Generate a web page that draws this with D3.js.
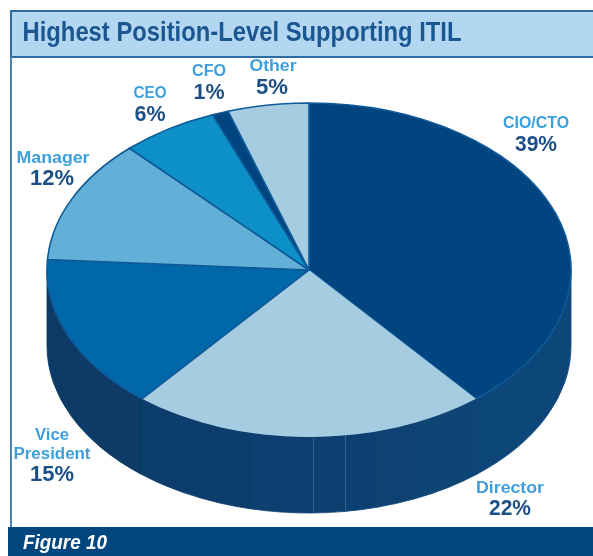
<!DOCTYPE html>
<html>
<head>
<meta charset="utf-8">
<script src="https://cdn.jsdelivr.net/npm/d3@7"></script>
<style>
  html, body { margin: 0; padding: 0; background: #fff; }
  svg { display: block; }
  text { font-family: "Liberation Sans Narrow", "Liberation Sans", sans-serif; font-weight: 700; text-anchor: middle; }
</style>
</head>
<body>
<div id="chart"></div>
<script>
const TITLE = 'Highest Position-Level Supporting ITIL';
const FIGURE = 'Figure 10';
const CATEGORIES = ['CIO/CTO', 'Director', 'Vice President', 'Manager', 'CEO', 'CFO', 'Other'];
const VALUES = [39, 22, 15, 12, 6, 1, 5];
const COLOURS = ['#00457f', '#a5cce1', '#0067a8', '#62afd8', '#1090c8', '#00457f', '#a5cce1'];

const WIDTH = 593;
const HEIGHT = 556;
const CX = 309;
const CY = 270;
const RX = 262;
const RY = 167;
const DEPTH = 76;

// shaded facets of the side wall, in degrees clockwise from 12 o'clock
const WALL_EDGES = [90, 140, 156, 165, 172, 179, 186, 193, 200, 209, 220, 270];
// hairlines that show up in the wall
const WALL_LINES = [172, 179];

// [text, x, baseline, textLength] for each line of label
const NAME_LINES = [
  [['CIO/CTO', 536, 128, 66]],
  [['Director', 510, 493, 68]],
  [['Vice', 52, 440, 34], ['President', 52, 459, 77]],
  [['Manager', 53, 163, 73]],
  [['CEO', 150, 98, 33]],
  [['CFO', 209, 76, 34]],
  [['Other', 273, 71, 47]],
];
const PCT_POS = [
  [536, 151, 42], [510, 515, 42], [52, 481, 44], [52, 185, 44],
  [150, 121, 31], [209, 99, 31], [272, 94, 32],
];

const svg = d3.select('#chart').append('svg')
  .attr('width', WIDTH)
  .attr('height', HEIGHT);

svg.append('defs').append('filter')
  .attr('id', 'soft')
  .attr('x', '-5%').attr('y', '-5%').attr('width', '110%').attr('height', '110%')
  .append('feGaussianBlur')
  .attr('stdDeviation', 0.55);

const g = svg.append('g').attr('filter', 'url(#soft)');

// Frame
g.append('rect')
  .attr('x', 11).attr('y', 11)
  .attr('width', WIDTH).attr('height', 46)
  .attr('fill', '#b3d6f1')
  .attr('stroke', '#2a6ca3')
  .attr('stroke-width', 2);

g.append('line')
  .attr('x1', 11).attr('x2', 11)
  .attr('y1', 57).attr('y2', 528)
  .attr('stroke', '#4a82b4')
  .attr('stroke-width', 2);

g.append('rect')
  .attr('x', 8).attr('y', 527)
  .attr('width', WIDTH - 8).attr('height', 29)
  .attr('fill', '#00477f');

g.append('text')
  .attr('x', 242).attr('y', 41)
  .attr('font-size', 28)
  .attr('fill', '#1a5790')
  .attr('textLength', 439)
  .attr('lengthAdjust', 'spacingAndGlyphs')
  .text(TITLE);

g.append('text')
  .attr('x', 65).attr('y', 549)
  .attr('font-size', 20)
  .attr('font-style', 'italic')
  .attr('fill', '#fff')
  .attr('textLength', 84)
  .attr('lengthAdjust', 'spacingAndGlyphs')
  .text(FIGURE);

// Pie
const px = d => CX + RX * Math.sin(d * Math.PI / 180);
const py = d => CY - RY * Math.cos(d * Math.PI / 180);

function wallPath(a0, a1) {
  return `M${px(a0)},${py(a0)}`
    + `A${RX},${RY} 0 0 1 ${px(a1)},${py(a1)}`
    + `L${px(a1)},${py(a1) + DEPTH}`
    + `A${RX},${RY} 0 0 0 ${px(a0)},${py(a0) + DEPTH}Z`;
}

const wallShade = d3.scaleLinear()
  .domain([90, 180, 270])
  .range(['#0d4a7e', '#0a4070', '#063762']);

const wallFacets = d3.pairs(WALL_EDGES);

g.append('g').selectAll('path')
  .data(wallFacets)
  .join('path')
  .attr('d', d => wallPath(d[0], d[1]))
  .attr('fill', d => wallShade((d[0] + d[1]) / 2))
  .attr('stroke', d => wallShade((d[0] + d[1]) / 2))
  .attr('stroke-width', 0.8);

g.append('g').selectAll('line')
  .data(WALL_LINES)
  .join('line')
  .attr('x1', px).attr('x2', px)
  .attr('y1', d => py(d)).attr('y2', d => py(d) + DEPTH)
  .attr('stroke', '#4a7398')
  .attr('stroke-width', 0.7);

const pie = d3.pie().sort(null).value(d => d)(VALUES);
const arc = d3.arc().innerRadius(0).outerRadius(1);

g.append('g')
  .attr('transform', `translate(${CX},${CY}) scale(${RX},${RY})`)
  .selectAll('path')
  .data(pie)
  .join('path')
  .attr('d', arc)
  .attr('fill', (d, i) => COLOURS[i])
  .attr('stroke', (d, i) => i === 1 ? 'none' : '#0f5a98')
  .attr('stroke-width', 1.6)
  .attr('vector-effect', 'non-scaling-stroke');

// Labels
const labels = g.append('g');

CATEGORIES.forEach((c, i) => {
  NAME_LINES[i].forEach(([txt, x, y, len]) => {
    labels.append('text')
      .attr('x', x).attr('y', y)
      .attr('font-size', 16)
      .attr('fill', '#3c9fdc')
      .attr('textLength', len)
      .attr('lengthAdjust', 'spacingAndGlyphs')
      .text(txt);
  });
  const [x, y, len] = PCT_POS[i];
  labels.append('text')
    .attr('x', x).attr('y', y)
    .attr('font-size', 22)
    .attr('fill', '#1d4f86')
    .attr('textLength', len)
    .attr('lengthAdjust', 'spacingAndGlyphs')
    .text(`${VALUES[i]}%`);
});
</script>
</body>
</html>
